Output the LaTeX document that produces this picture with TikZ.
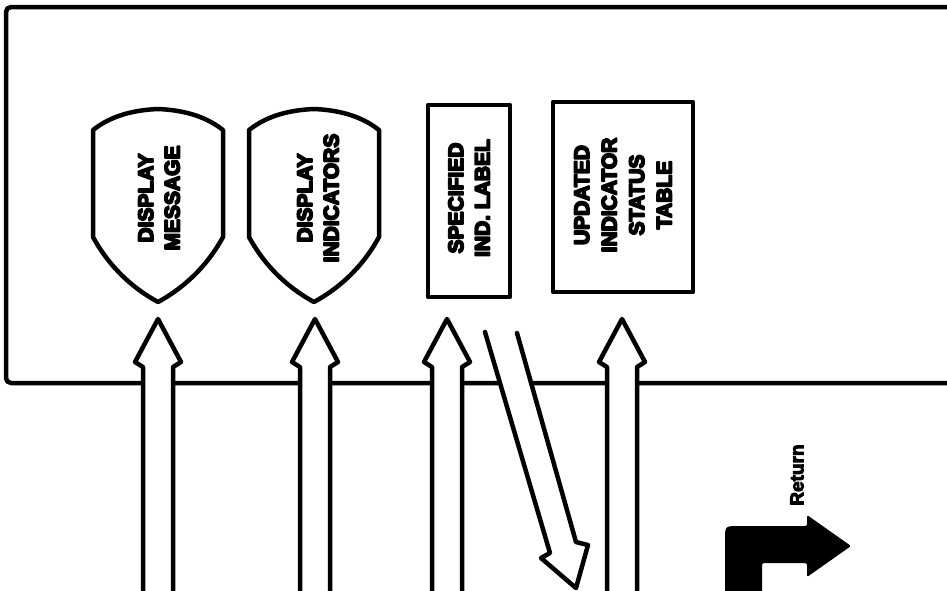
\documentclass[tikz,border=0pt]{standalone}
\usepackage{fontspec}
\newfontfamily\heavy{Liberation Sans Bold}
\newcommand{\embold}{\special{pdf:literal direct 2 Tr 1.7 w 1 j}}
\newcommand{\emboldlight}{\special{pdf:literal direct 2 Tr 0.9 w 1 j}}
\begin{document}
\begin{tikzpicture}[x=1pt,y=-1pt,
  outline/.style={line width=4.5pt,line join=round,line cap=round},
  lbl/.style={rotate=90,align=center,inner sep=0pt,
    font=\heavy\fontsize{21}{26.5}\selectfont\embold},
  hollow/.style={outline,fill=white}]
\useasboundingbox (0,0) rectangle (947,590);
\clip (0,0) rectangle (947,590);
% outer frame (open to the right)
\draw[outline,rounded corners=5pt] (960,7) -- (6,7) -- (6,383) -- (960,383);
% shields
\newcommand{\shieldpath}{(-65,130) .. controls (-46,115) and (-23,110) .. (0,109)
  .. controls (23,110) and (46,115) .. (65,130) -- (65,237)
  .. controls (47,270) and (22,290) .. (0,302)
  .. controls (-22,290) and (-47,270) .. (-65,237) -- cycle}
\begin{scope}[xshift=158pt]\draw[outline] \shieldpath;\end{scope}
\begin{scope}[xshift=314pt]\draw[outline] \shieldpath;\end{scope}
\node[lbl] (msg) at (159,198) {DISPLAY\\MESSAGE};
\node[lbl] (ind) at (318,198) {DISPLAY\\INDICATORS};
% boxes
\draw[outline,line cap=butt] (428,105) rectangle (510,297);
\draw[outline,line cap=butt] (553,102) rectangle (693,292);
\node[lbl] (spec) at (469,198) {SPECIFIED\\IND. LABEL};
\node[lbl,font=\heavy\fontsize{21}{27.5}\selectfont\embold] (upd) at (623,195) {UPDATED\\INDICATOR\\STATUS\\TABLE};
% hollow up arrows
\newcommand{\hollowup}[1]{\begin{scope}[xshift=#1pt]
  \filldraw[hollow] (-15,600) -- (-15,367) -- (-23,362) -- (0,319) -- (23,362) -- (15,367) -- (15,600);
  \end{scope}}
\hollowup{158}
\hollowup{315}
\hollowup{447}
\hollowup{622}
% diagonal down arrow
\filldraw[hollow] (485,332) -- (550,553) -- (541,558) -- (576,588) -- (588,545) -- (576,542) -- (517,333);
% return arrow
\fill[rounded corners=1.5pt] (725,600) -- (725,541) .. controls (725,526) .. (740,526) -- (807,526) -- (807,515)
  -- (851,546) -- (807,577) -- (807,563) -- (762,563) -- (762,600) -- cycle;
\node[rotate=90,inner sep=0pt,font=\heavy\fontsize{19}{21}\selectfont\emboldlight] (ret) at (797,475) {Return};
\end{tikzpicture}
\end{document}
